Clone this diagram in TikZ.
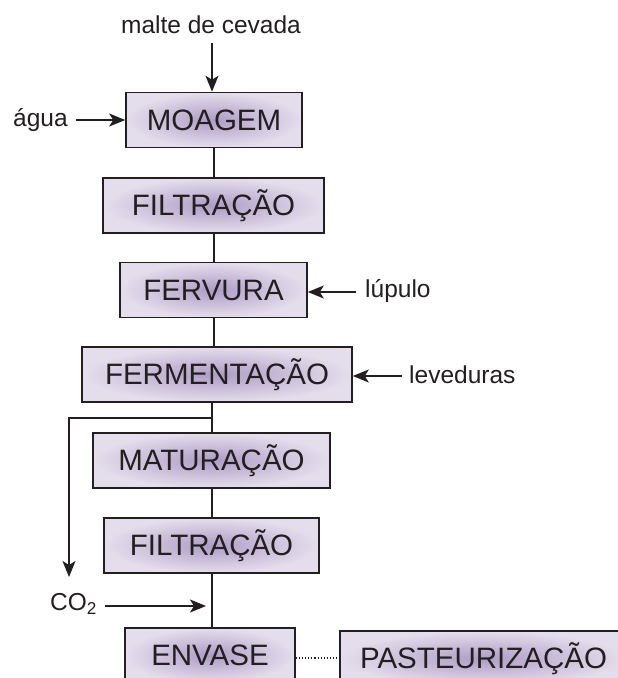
\documentclass[tikz,border=0pt]{standalone}
\usepackage{fontspec}
\setmainfont{Liberation Sans}
\usetikzlibrary{arrows.meta}
\definecolor{boxout}{HTML}{E4DEEC}
\definecolor{boxin}{HTML}{AE9CC6}
\definecolor{inkc}{HTML}{231F20}
\tikzset{
  stepbox/.style={draw=inkc, line width=1.6pt, inner color=boxin, outer color=boxout,
    minimum height=55pt, inner sep=0pt, text=inkc,
    font=\fontsize{29.5}{35}\selectfont},
  lbl/.style={inner sep=0pt, text=inkc, font=\fontsize{24.5}{29}\selectfont},
  link/.style={draw=inkc, line width=1.5pt},
  feed/.style={draw=inkc, line width=1.6pt, -{Stealth[length=16pt,width=13pt,inset=4pt]}},
  dotlink/.style={draw=inkc, line width=1.1pt, dotted}
}
\begin{document}
\begin{tikzpicture}[x=1pt,y=-1pt]
\useasboundingbox (0,0) rectangle (618,678);
\node[stepbox, minimum width=176pt] (moagem) at (214,120) {MOAGEM};
\node[stepbox, minimum width=221pt] (filt1) at (213.5,205.5) {FILTRAÇÃO};
\node[stepbox, minimum width=187pt] (fervura) at (213.5,290) {FERVURA};
\node[stepbox, minimum width=270pt] (ferment) at (217,374.5) {FERMENTAÇÃO};
\node[stepbox, minimum width=237pt] (matur) at (211.5,460.5) {MATURAÇÃO};
\node[stepbox, minimum width=215pt] (filt2) at (211.5,545.5) {FILTRAÇÃO};
\node[stepbox, minimum width=170pt] (envase) at (210,655.5) {ENVASE};
\node[stepbox, minimum width=287pt] (pasteur) at (483.5,658.5) {PASTEURIZAÇÃO};

\node[lbl] (malte) at (211,25) {malte de cevada};
\node[lbl, anchor=west] (agua) at (13,120) {água};
\node[lbl, anchor=west] (lupulo) at (365,291) {lúpulo};
\node[lbl, anchor=west] (lev) at (409,375) {leveduras};
\node[lbl, anchor=west] (co2) at (50,604) {CO\textsubscript{2}};

% feeds
\coordinate (malteA) at (212,43);
\draw[feed] (malteA) -- (malteA |- moagem.north);
\coordinate (aguaA) at (76,120);
\draw[feed] (aguaA) -- (moagem.west);
\coordinate (lupA) at (356,292);
\draw[feed] (lupA) -- (lupA -| fervura.east);
\coordinate (levA) at (402,376);
\draw[feed] (levA) -- (levA -| ferment.east);

% trunk
\coordinate (t1) at (214,0);
\draw[link] (moagem.south) -- (t1 |- filt1.north);
\draw[link] (t1 |- filt1.south) -- (t1 |- fervura.north);
\draw[link] (t1 |- fervura.south) -- (t1 |- ferment.north);
\coordinate (t2) at (212,0);
\coordinate (branch) at (212,418);
\draw[link] (t2 |- ferment.south) -- (t2 |- matur.north);
\draw[link] (t2 |- matur.south) -- (t2 |- filt2.north);
\draw[link] (t2 |- filt2.south) -- (t2 |- envase.north);
\coordinate (co2end) at (69,577);
\draw[feed] (branch) -- (co2end |- branch) -- (co2end);
\coordinate (co2A) at (105,606);
\draw[feed] (co2A) -- (206,606);
\draw[dotlink] (envase.east |- 0,658) -- (pasteur.west |- 0,658);
\end{tikzpicture}
\end{document}
